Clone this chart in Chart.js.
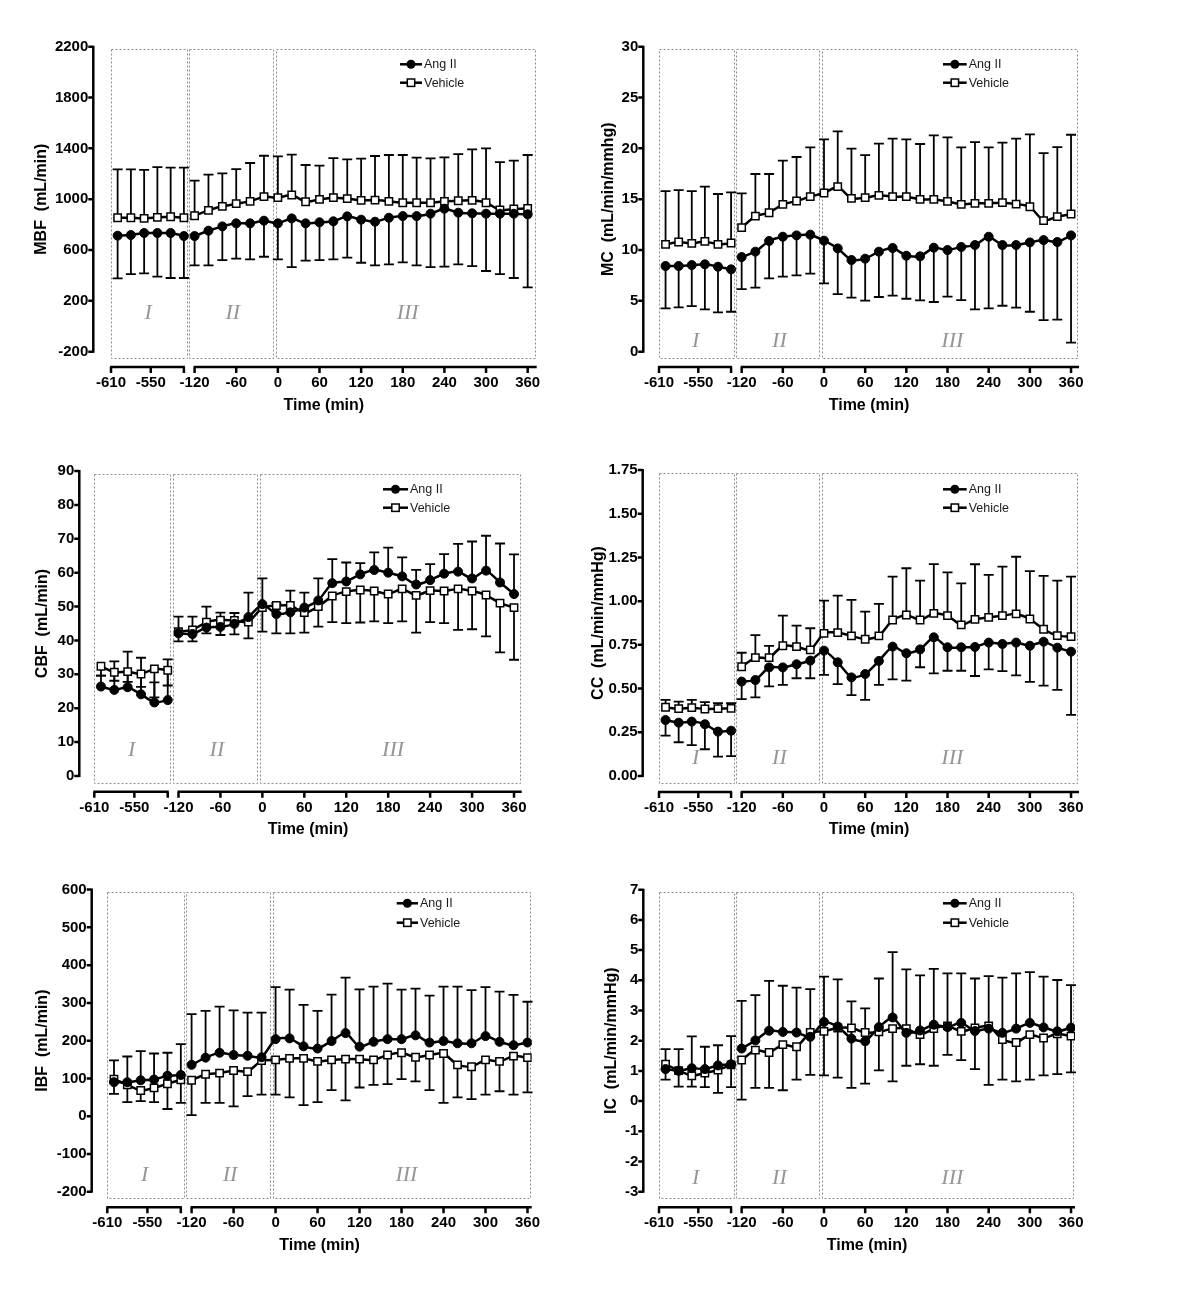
<!DOCTYPE html>
<html><head><meta charset="utf-8">
<script src="https://cdn.jsdelivr.net/npm/chart.js@4.4.1/dist/chart.umd.min.js"></script>
<style>
html,body{margin:0;padding:0;background:#fff;}
body{width:1200px;height:1290px;position:relative;overflow:hidden;}
canvas{position:absolute;}
</style></head><body>
<canvas id="c1" width="575" height="430" style="left:0;top:0"></canvas>
<canvas id="c2" width="625" height="430" style="left:575px;top:0"></canvas>
<canvas id="c3" width="575" height="430" style="left:0;top:430px"></canvas>
<canvas id="c4" width="625" height="430" style="left:575px;top:430px"></canvas>
<canvas id="c5" width="575" height="430" style="left:0;top:860px"></canvas>
<canvas id="c6" width="625" height="430" style="left:575px;top:860px"></canvas>
<script>
// ---------- DATA ----------
const timesPre  = [-600, -580, -560, -540, -520, -500];
const timesPost = [-120, -100, -80, -60, -40, -20, 0, 20, 40, 60, 80, 100, 120, 140, 160, 180, 200, 220, 240, 260, 280, 300, 320, 340, 360];
const xTickLabels = [-610, -550, -120, -60, 0, 60, 120, 180, 240, 300, 360];
const seriesNames = ['Ang II', 'Vehicle'];
const regionLabels = ['I', 'II', 'III'];

// MBF (mL/min)
const mbfAng    = [713, 718, 734, 734, 734, 710, 710, 752, 786, 810, 810, 831, 810, 849, 810, 818, 826, 865, 839, 823, 854, 867, 867, 886, 925, 894, 889, 886, 886, 886, 881];
const mbfAngErr = [336, 307, 318, 344, 354, 330, 231, 273, 265, 278, 283, 284, 283, 383, 294, 297, 299, 325, 339, 344, 367, 364, 388, 420, 456, 407, 415, 451, 475, 506, 575];
const mbfVeh    = [854, 854, 849, 857, 862, 854, 870, 912, 944, 965, 983, 1020, 1012, 1033, 980, 999, 1012, 1004, 991, 993, 983, 972, 972, 972, 983, 988, 991, 972, 915, 923, 928];
const mbfVehErr = [381, 381, 381, 396, 386, 394, 276, 281, 259, 272, 302, 322, 325, 317, 289, 265, 312, 309, 328, 347, 365, 376, 355, 349, 346, 367, 401, 428, 377, 380, 420];

// MC (mL/min/mmhg)
const mcAng    = [8.43, 8.43, 8.52, 8.59, 8.36, 8.10, 9.31, 9.84, 10.89, 11.31, 11.44, 11.51, 10.92, 10.16, 9.02, 9.15, 9.84, 10.20, 9.44, 9.38, 10.23, 10.0, 10.30, 10.49, 11.31, 10.49, 10.49, 10.75, 10.98, 10.79, 11.44];
const mcAngErr = [4.17, 4.07, 4.03, 4.43, 4.49, 4.17, 3.15, 3.54, 3.68, 3.93, 3.93, 3.84, 4.20, 4.49, 3.71, 4.13, 4.46, 4.69, 4.23, 4.33, 5.34, 4.59, 5.22, 6.33, 7.05, 5.97, 6.16, 6.82, 7.87, 7.64, 10.55];
const mcVeh    = [10.56, 10.79, 10.66, 10.85, 10.56, 10.69, 12.20, 13.34, 13.67, 14.49, 14.82, 15.25, 15.61, 16.23, 15.08, 15.15, 15.38, 15.25, 15.25, 14.98, 14.98, 14.79, 14.49, 14.59, 14.59, 14.66, 14.52, 14.26, 12.89, 13.28, 13.54];
const mcVehErr = [5.24, 5.11, 5.14, 5.38, 4.95, 4.98, 3.37, 4.14, 3.81, 4.30, 4.33, 4.85, 5.28, 5.44, 4.89, 4.19, 5.08, 5.70, 5.64, 5.45, 6.30, 6.29, 5.61, 6.03, 5.51, 5.90, 6.43, 7.12, 6.65, 6.85, 7.80];

// CBF (mL/min)
const cbfAng    = [26.4, 25.4, 26.2, 24.1, 21.7, 22.4, 42.1, 41.9, 43.8, 44.0, 44.9, 46.9, 50.7, 47.8, 48.3, 49.7, 51.8, 56.9, 57.4, 59.5, 60.8, 60.0, 58.9, 56.5, 57.8, 59.7, 60.3, 58.3, 60.6, 57.1, 53.7];
const cbfAngErr = [3.2, 8.4, 10.5, 10.8, 5.9, 12.0, 4.9, 5.1, 6.2, 4.2, 3.2, 7.2, 7.6, 3.2, 6.4, 4.4, 6.5, 7.1, 5.6, 3.3, 5.2, 7.4, 5.6, 4.3, 4.7, 5.8, 8.2, 10.9, 10.3, 11.5, 11.7];
const cbfVeh    = [32.4, 30.6, 30.8, 30.1, 31.6, 31.2, 42.6, 43.1, 45.4, 46.0, 45.9, 45.4, 49.7, 50.3, 50.3, 48.2, 50.0, 53.1, 54.4, 54.9, 54.6, 53.7, 55.2, 53.3, 54.7, 54.6, 55.2, 54.6, 53.4, 51.0, 49.7];
const cbfVehErr = [2.8, 2.5, 3.0, 3.8, 8.4, 4.5, 2.9, 3.4, 3.3, 4.4, 4.1, 4.8, 7.1, 8.2, 8.2, 5.9, 5.9, 7.7, 9.3, 9.6, 9.0, 8.6, 9.6, 11.0, 9.3, 9.5, 12.1, 11.3, 12.2, 14.5, 15.4];

// CC (mL/min/mmHg)
const ccAng    = [0.320, 0.305, 0.311, 0.296, 0.254, 0.259, 0.540, 0.549, 0.621, 0.621, 0.639, 0.660, 0.717, 0.650, 0.564, 0.583, 0.658, 0.740, 0.702, 0.724, 0.793, 0.736, 0.736, 0.738, 0.763, 0.755, 0.763, 0.745, 0.768, 0.734, 0.711];
const ccAngErr = [0.089, 0.112, 0.134, 0.143, 0.143, 0.145, 0.100, 0.099, 0.108, 0.100, 0.080, 0.101, 0.139, 0.124, 0.101, 0.148, 0.137, 0.187, 0.157, 0.102, 0.206, 0.134, 0.134, 0.166, 0.153, 0.155, 0.187, 0.207, 0.251, 0.242, 0.362];
const ccVeh    = [0.393, 0.385, 0.391, 0.383, 0.385, 0.387, 0.625, 0.677, 0.677, 0.745, 0.740, 0.721, 0.816, 0.820, 0.801, 0.782, 0.801, 0.892, 0.921, 0.892, 0.930, 0.917, 0.864, 0.896, 0.907, 0.917, 0.927, 0.898, 0.839, 0.803, 0.797];
const ccVehErr = [0.042, 0.040, 0.044, 0.040, 0.032, 0.030, 0.080, 0.129, 0.067, 0.172, 0.120, 0.124, 0.187, 0.211, 0.206, 0.158, 0.183, 0.248, 0.267, 0.225, 0.282, 0.248, 0.238, 0.315, 0.243, 0.280, 0.327, 0.274, 0.305, 0.314, 0.343];

// IBF (mL/min)
const ibfAng    = [90, 90, 95, 97, 107, 109, 136, 155, 168, 162, 160, 156, 204, 206, 185, 179, 199, 220, 184, 197, 204, 204, 214, 195, 199, 193, 193, 212, 197, 188, 195];
const ibfAngErr = [58, 68, 77, 69, 61, 82, 134, 124, 122, 118, 114, 118, 138, 129, 110, 100, 123, 147, 152, 146, 147, 131, 124, 124, 144, 150, 141, 130, 133, 133, 108];
const ibfVeh    = [98, 83, 68, 75, 86, 96, 95, 111, 114, 121, 118, 147, 149, 153, 153, 145, 149, 151, 151, 149, 162, 168, 156, 162, 166, 136, 131, 149, 145, 159, 155];
const ibfVehErr = [39, 46, 28, 38, 67, 61, 92, 76, 79, 95, 65, 90, 92, 103, 124, 108, 80, 109, 75, 66, 77, 70, 64, 93, 131, 86, 86, 92, 79, 102, 92];

// IC (mL/min/mmHg)
const icAng    = [1.06, 1.00, 1.09, 1.06, 1.18, 1.22, 1.74, 2.01, 2.33, 2.29, 2.27, 2.13, 2.62, 2.47, 2.07, 1.98, 2.45, 2.77, 2.26, 2.34, 2.53, 2.45, 2.59, 2.32, 2.40, 2.26, 2.40, 2.59, 2.44, 2.31, 2.43];
const icAngErr = [0.66, 0.72, 1.05, 0.74, 0.67, 0.93, 1.58, 1.50, 1.65, 1.53, 1.49, 1.58, 1.50, 1.56, 1.23, 1.09, 1.61, 2.16, 2.10, 1.82, 1.85, 1.78, 1.64, 1.74, 1.74, 1.83, 1.83, 1.68, 1.68, 1.70, 1.41];
const icVeh    = [1.22, 1.01, 0.84, 0.93, 1.03, 1.20, 1.36, 1.69, 1.61, 1.87, 1.80, 2.27, 2.31, 2.42, 2.42, 2.27, 2.29, 2.40, 2.40, 2.20, 2.40, 2.49, 2.31, 2.42, 2.49, 2.04, 1.94, 2.20, 2.09, 2.23, 2.15];
const icVehErr = [0.51, 0.53, 0.36, 0.47, 0.76, 0.74, 1.31, 1.25, 1.17, 1.51, 1.09, 1.40, 1.46, 1.64, 1.98, 1.69, 1.27, 1.75, 1.23, 0.98, 1.23, 0.96, 0.95, 1.36, 1.95, 1.33, 1.29, 1.49, 1.24, 1.34, 1.20];

// ---------- BROKEN AXIS MAPPING ----------
// time (min) -> axis coordinate; the pre-period (-610..-500) is compressed next to -120
function toAxis(t) { return t <= -400 ? -135.4 + (t + 500) * 0.955 : t; }
const allTimes = timesPre.concat(timesPost);

Chart.defaults.font.family = "'Liberation Sans', Arial, sans-serif";
Chart.defaults.color = '#000';

function buildData(vals, errs) {
  const pts = [], es = [];
  allTimes.forEach((t, i) => {
    if (i === timesPre.length) { pts.push({x: (toAxis(-500) + toAxis(-120)) / 2, y: null}); es.push(null); }
    pts.push({x: toAxis(t), y: vals[i]});
    es.push(errs[i]);
  });
  return {pts, es};
}

const decorPlugin = {
  id: 'decor',
  beforeDatasetsDraw(chart) {
    const o = chart.options.plugins.decor;
    const ctx = chart.ctx, xs = chart.scales.x, ys = chart.scales.y, a = chart.chartArea;
    // dotted region boxes
    ctx.save();
    ctx.strokeStyle = '#8c8c8c'; ctx.lineWidth = 1; ctx.setLineDash([2, 2]);
    const bt = Math.round(a.top + 2.5) + 0.5, bb = Math.round(a.bottom + 6.5) + 0.5;
    const boxes = [[xs.min, -131.5], [-127.7, -7.7], [-3.3, xs.max - 3]];
    boxes.forEach(([v0, v1]) => {
      const x0 = Math.round(xs.getPixelForValue(v0)) + 0.5, x1 = Math.round(xs.getPixelForValue(v1)) + 0.5;
      ctx.strokeRect(x0, bt, x1 - x0, bb - bt);
    });
    ctx.setLineDash([]);
    // region numerals
    ctx.fillStyle = '#969696';
    ctx.font = "italic 22px 'Liberation Serif', 'DejaVu Serif', serif";
    ctx.textAlign = 'center'; ctx.textBaseline = 'middle';
    const rx = [-187, -65, 187];
    regionLabels.forEach((r, i) => ctx.fillText(r, xs.getPixelForValue(rx[i]), a.bottom - o.romanUp));
    ctx.restore();
    // error bars
    chart.data.datasets.forEach((ds, di) => {
      const meta = chart.getDatasetMeta(di);
      ctx.save();
      ctx.strokeStyle = '#000'; ctx.lineWidth = 1.8;
      meta.data.forEach((pt, j) => {
        const d = ds.data[j], e = ds.errors[j];
        if (d.y == null || e == null) return;
        const y0 = ys.getPixelForValue(d.y), y1 = ys.getPixelForValue(d.y + ds.errDir * e);
        ctx.beginPath();
        ctx.moveTo(pt.x, y0); ctx.lineTo(pt.x, y1);
        ctx.moveTo(pt.x - 5, y1); ctx.lineTo(pt.x + 5, y1);
        ctx.stroke();
      });
      ctx.restore();
    });
  },
  afterDraw(chart) {
    const o = chart.options.plugins.decor;
    const ctx = chart.ctx, xs = chart.scales.x, ys = chart.scales.y;
    ctx.save();
    ctx.strokeStyle = '#000'; ctx.lineWidth = 2.5; ctx.lineCap = 'butt';
    // y axis
    const yTop = ys.getPixelForValue(ys.max), yBot = ys.getPixelForValue(ys.min);
    ctx.beginPath();
    ctx.moveTo(o.yAxisX, yTop - 1); ctx.lineTo(o.yAxisX, yBot + 1);
    ys.ticks.forEach(t => { const py = ys.getPixelForValue(t.value); ctx.moveTo(o.yAxisX - 5, py); ctx.lineTo(o.yAxisX, py); });
    ctx.stroke();
    // x axis, two segments
    const ay = o.xAxisY;
    const s1a = xs.getPixelForValue(toAxis(-610)), s1b = xs.getPixelForValue(toAxis(-500));
    const s2a = xs.getPixelForValue(toAxis(-120)), s2b = xs.getPixelForValue(xs.max);
    ctx.beginPath();
    ctx.moveTo(s1a - 1, ay); ctx.lineTo(s1b + 1, ay);
    ctx.moveTo(s2a - 1, ay); ctx.lineTo(s2b, ay);
    const tickPos = xTickLabels.map(toAxis).concat([toAxis(-500)]);
    tickPos.forEach(v => { const px = xs.getPixelForValue(v); ctx.moveTo(px, ay); ctx.lineTo(px, ay + 6); });
    ctx.stroke();
    // legend
    const L = o.leg;
    const cx = (L[0] + L[1]) / 2;
    [L[2], L[3]].forEach((ly, i) => {
      ctx.beginPath(); ctx.lineWidth = 2.5;
      ctx.moveTo(L[0], ly); ctx.lineTo(L[1], ly); ctx.stroke();
      if (i === 0) {
        ctx.beginPath(); ctx.fillStyle = '#000'; ctx.arc(cx, ly, 4.5, 0, Math.PI * 2); ctx.fill();
      } else {
        ctx.fillStyle = '#fff'; ctx.lineWidth = 1.5;
        ctx.fillRect(cx - 3.7, ly - 3.7, 7.4, 7.4); ctx.strokeRect(cx - 3.7, ly - 3.7, 7.4, 7.4);
      }
      ctx.fillStyle = '#1a1a1a'; ctx.font = "12.5px 'Liberation Sans', Arial, sans-serif";
      ctx.textAlign = 'left'; ctx.textBaseline = 'middle';
      ctx.fillText(seriesNames[i], L[1] + 2, ly + 0.5);
    });
    ctx.restore();
  }
};

const panels = [
  {id:'c1', ox:0,   oy:0,   cw:575, area:[111, 46.7, 536.7, 351.7], yAxisX:93.3,  xAxisY:367,    tickY:383,    titleY:405.6,  yTitleX:42,    leg:[400, 422, 64.3, 82.7],     romanUp:38.7, xmax:373,
   yMin:-200, yMax:2200, yStep:400, dec:0, yTitle:'MBF  (mL/min)', ang:mbfAng, angErr:mbfAngErr, veh:mbfVeh, vehErr:mbfVehErr, angDir:-1, vehDir:1},
  {id:'c2', ox:575, oy:0,   cw:625, area:[659, 46.7, 1079, 351.7],  yAxisX:643.3, xAxisY:367,    tickY:382.7,  titleY:405.6,  yTitleX:609,   leg:[943, 966.7, 64.3, 82.7],   romanUp:10,   xmax:371.6,
   yMin:0, yMax:30, yStep:5, dec:0, yTitle:'MC  (mL/min/mmhg)', ang:mcAng, angErr:mcAngErr, veh:mcVeh, vehErr:mcVehErr, angDir:-1, vehDir:1},
  {id:'c3', ox:0,   oy:430, cw:575, area:[94.3, 471, 521.7, 776],   yAxisX:79.3,  xAxisY:791.7,  tickY:808,    titleY:830,    yTitleX:43,    leg:[383, 408, 489.3, 507.7],   romanUp:26,   xmax:371,
   yMin:0, yMax:90, yStep:10, dec:0, yTitle:'CBF  (mL/min)', ang:cbfAng, angErr:cbfAngErr, veh:cbfVeh, vehErr:cbfVehErr, angDir:1, vehDir:-1},
  {id:'c4', ox:575, oy:430, cw:625, area:[659, 470, 1079, 776],     yAxisX:642.7, xAxisY:792,    tickY:808,    titleY:830,    yTitleX:599,   leg:[943, 966.7, 489.3, 507.7], romanUp:18,   xmax:371.6,
   yMin:0, yMax:1.75, yStep:0.25, dec:2, yTitle:'CC  (mL/min/mmHg)', ang:ccAng, angErr:ccAngErr, veh:ccVeh, vehErr:ccVehErr, angDir:-1, vehDir:1},
  {id:'c5', ox:0,   oy:860, cw:575, area:[107.3, 886, 531.7, 1191.7], yAxisX:91.7, xAxisY:1207.3, tickY:1222.7, titleY:1245.7, yTitleX:43,    leg:[396.7, 418, 903.3, 922.7], romanUp:16,   xmax:366,
   yMin:-200, yMax:600, yStep:100, dec:0, yTitle:'IBF  (mL/min)', ang:ibfAng, angErr:ibfAngErr, veh:ibfVeh, vehErr:ibfVehErr, angDir:1, vehDir:-1},
  {id:'c6', ox:575, oy:860, cw:625, area:[659, 886, 1075, 1191.7],  yAxisX:643.3, xAxisY:1207.3, tickY:1222.7, titleY:1245.7, yTitleX:611.7, leg:[943, 966.7, 903.3, 922.7], romanUp:13.4, xmax:365.8,
   yMin:-3, yMax:7, yStep:1, dec:0, yTitle:'IC  (mL/min/mmHg)', ang:icAng, angErr:icAngErr, veh:icVeh, vehErr:icVehErr, angDir:1, vehDir:-1}
];

const CH = 430;
const labelMap = {};
xTickLabels.forEach(t => { labelMap[toAxis(t).toFixed(3)] = String(t); });

panels.forEach(p => {
  const A = buildData(p.ang, p.angErr), V = buildData(p.veh, p.vehErr);
  const aL = p.area[0] - p.ox, aT = p.area[1] - p.oy, aR = p.area[2] - p.ox, aB = p.area[3] - p.oy;
  new Chart(document.getElementById(p.id), {
    type: 'line',
    data: {
      datasets: [
        {label: seriesNames[0], data: A.pts, errors: A.es, errDir: p.angDir,
         borderColor: '#000', backgroundColor: '#000', borderWidth: 2.5, tension: 0.2,
         pointStyle: 'circle', pointRadius: 4.5, pointBackgroundColor: '#000', pointBorderColor: '#000', pointBorderWidth: 1},
        {label: seriesNames[1], data: V.pts, errors: V.es, errDir: p.vehDir,
         borderColor: '#000', backgroundColor: '#fff', borderWidth: 2.5, tension: 0.2,
         pointStyle: 'rect', pointRadius: 5.2, pointBackgroundColor: '#fff', pointBorderColor: '#000', pointBorderWidth: 1.5}
      ]
    },
    options: {
      responsive: false, animation: false, devicePixelRatio: 1,
      layout: {padding: {left: 0, top: aT, right: p.cw - aR, bottom: 0}},
      plugins: {
        legend: {display: false}, tooltip: {enabled: false},
        decor: {yAxisX: p.yAxisX - p.ox, xAxisY: p.xAxisY - p.oy, leg: [p.leg[0] - p.ox, p.leg[1] - p.ox, p.leg[2] - p.oy, p.leg[3] - p.oy], romanUp: p.romanUp}
      },
      scales: {
        x: {
          type: 'linear', min: toAxis(-610), max: p.xmax,
          grid: {display: false, drawTicks: false}, border: {display: false},
          afterFit: s => { s.height = CH - aB; },
          afterBuildTicks: s => { s.ticks = xTickLabels.map(t => ({value: toAxis(t)})); },
          ticks: {autoSkip: false, maxRotation: 0, minRotation: 0, color: '#000',
                  font: {size: 15, weight: 'bold'}, padding: (p.tickY - p.oy) - aB - 9,
                  callback: v => labelMap[Number(v).toFixed(3)] || ''},
          title: {display: true, text: 'Time (min)', color: '#000', font: {size: 16, weight: 'bold', lineHeight: 1.2},
                  padding: {top: 0, bottom: CH - (p.titleY - p.oy) - 9.6}}
        },
        y: {
          type: 'linear', min: p.yMin, max: p.yMax,
          grid: {display: false, drawTicks: false}, border: {display: false},
          afterFit: s => { s.width = aL; },
          ticks: {stepSize: p.yStep, color: '#000', font: {size: 15, weight: 'bold'},
                  padding: aL - (p.yAxisX - p.ox) + 5,
                  callback: v => Number(v).toFixed(p.dec)},
          title: {display: true, text: p.yTitle, color: '#000', font: {size: 16, weight: 'bold', lineHeight: 1.2},
                  padding: {top: (p.yTitleX - p.ox) - 9.6, bottom: 0}}
        }
      }
    },
    plugins: [decorPlugin]
  });
});
</script>
</body></html>
